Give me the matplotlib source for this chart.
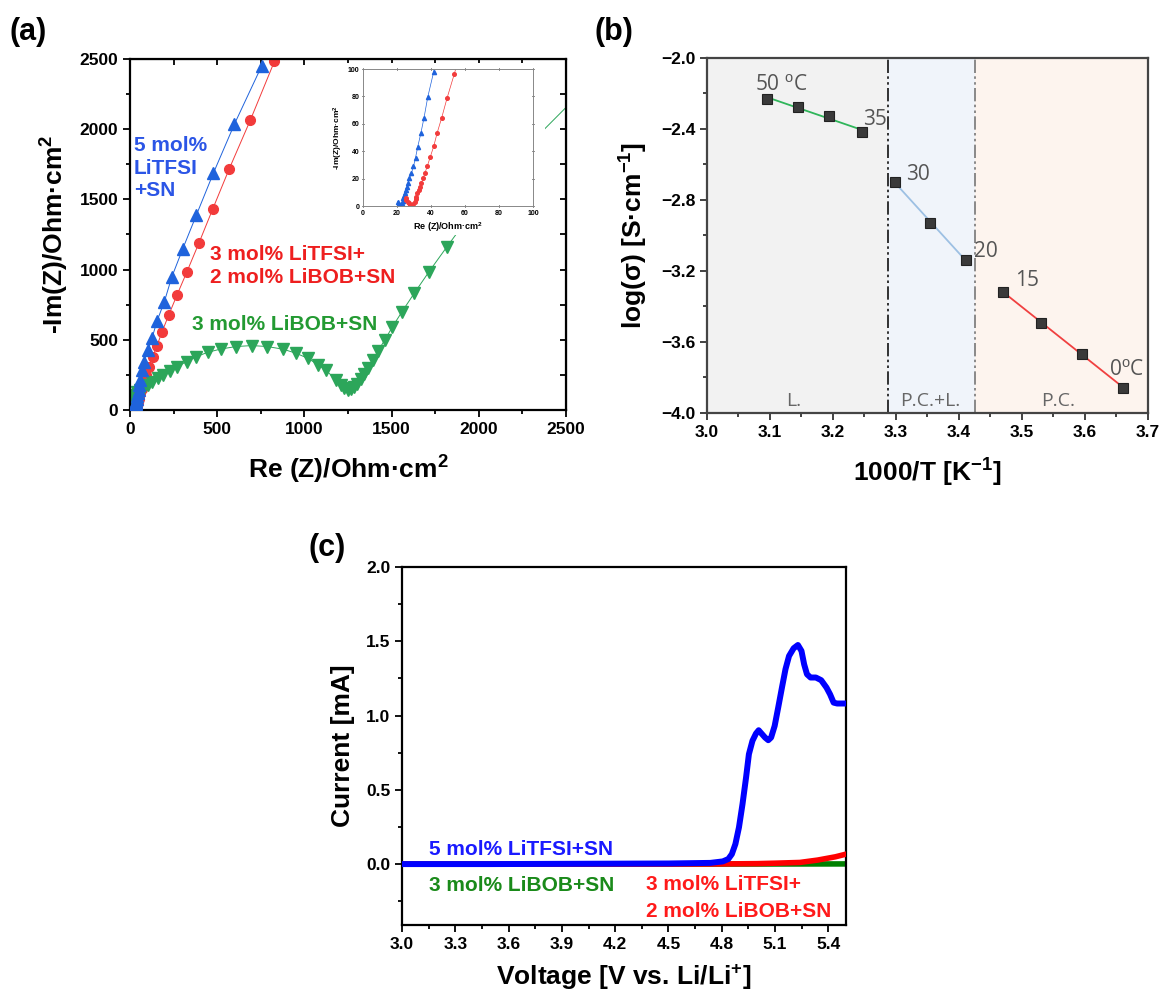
import numpy as np
import matplotlib
matplotlib.use('Agg')
import matplotlib.pyplot as plt
from matplotlib.patches import Rectangle
from matplotlib.ticker import MultipleLocator

plt.rcParams['font.family'] = ['Liberation Sans', 'DejaVu Sans']
plt.rcParams['mathtext.fontset'] = 'custom'
plt.rcParams['mathtext.rm'] = 'Liberation Sans'
plt.rcParams['mathtext.bf'] = 'Liberation Sans:bold'
plt.rcParams['mathtext.it'] = 'Liberation Sans:italic'

# ---------------- data: (a) Nyquist ----------------
litfsi_re = [20.3, 21.1, 21.9, 23.0, 23.4, 23.8, 24.2, 24.8, 25.4, 26.0, 26.6, 27.3, 28.5, 29.7,
             30.9, 32.2, 34.0, 35.9, 38.1, 41.6, 45, 49, 53, 58, 66, 80, 102, 127, 155, 197,
             239, 303, 381, 478, 599, 754]
litfsi_im = [3.2, 1.5, 0.7, 1.9, 3.9, 5.6, 7.5, 9.7, 11.7, 14.1, 16.5, 20.2, 24.1, 29.0,
             35.3, 43.3, 53.0, 64.5, 79.6, 98.1, 120, 146, 176, 214, 285, 345, 428, 516, 634, 772,
             946, 1150, 1390, 1687, 2037, 2448]

mix_re = [25.0, 25.4, 26.2, 26.8, 27.7, 29.1, 29.7, 30.3, 30.9, 31.4, 32.0, 32.8, 33.6, 34.4,
          35.4, 36.5, 37.9, 39.6, 41.6, 43.6, 46.3, 49.4, 53.7, 59, 66, 76, 91, 110, 129, 155,
          184, 222, 269, 326, 394, 474, 569, 690, 828]
mix_im = [5.6, 4.4, 3.2, 1.9, 1.0, 0.7, 1.5, 2.9, 4.9, 6.8, 9.2, 11.7, 14.1, 17.0,
          20.4, 24.3, 29.4, 36.0, 43.6, 53.3, 64.5, 78.6, 96.4, 120, 152, 192, 250, 309, 375, 459,
          558, 677, 818, 984, 1186, 1431, 1718, 2065, 2483]

libob_re = [13, 17, 25, 38, 59, 80, 102, 127, 159, 191, 229, 271, 324, 381, 445, 523, 608, 699,
            787, 878, 953, 1020, 1080, 1122, 1181, 1207, 1228, 1249, 1266, 1285, 1302, 1323,
            1344, 1365, 1393, 1423, 1461, 1503, 1560, 1630, 1715, 1818, 1940, 2080, 2240, 2600]
libob_im = [36, 71, 107, 131, 143, 162, 178, 202, 226, 250, 278, 309, 345, 380, 411, 435, 452, 459,
            452, 433, 404, 368, 321, 285, 214, 178, 154, 143, 147, 162, 185, 219,
            257, 302, 356, 423, 499, 589, 701, 832, 986, 1164, 1370, 1590, 1830, 2280]

# ---------------- data: (b) Arrhenius ----------------
inv_T = [3.095, 3.144, 3.193, 3.246, 3.299, 3.354, 3.411, 3.470, 3.531, 3.595, 3.661]
log_sigma = [-2.229, -2.276, -2.326, -2.416, -2.699, -2.932, -3.136, -3.318, -3.492, -3.668, -3.858]
phase_bounds = [3.0, 3.287, 3.425, 3.7]
phase_names = ['L.', 'P.C.+L.', 'P.C.']
temp_labels = [r'50 $^{\mathrm{o}}$C', '35', '30', '20', '15', r'0$^{\mathrm{o}}$C']

# ---------------- data: (c) LSV ----------------
v_litfsi = [3.0, 3.5, 4.0, 4.5, 4.736, 4.806, 4.837, 4.857, 4.877, 4.897, 4.917, 4.937, 4.953,
            4.973, 4.993, 5.008, 5.024, 5.044, 5.062, 5.078, 5.098, 5.118, 5.139, 5.159, 5.179,
            5.205, 5.229, 5.249, 5.264, 5.280, 5.300, 5.330, 5.360, 5.390, 5.410, 5.430, 5.450, 5.500]
i_litfsi = [0.0, 0.0, 0.002, 0.004, 0.008, 0.018, 0.034, 0.067, 0.135, 0.247, 0.404, 0.583, 0.740,
            0.830, 0.879, 0.901, 0.879, 0.852, 0.834, 0.852, 0.930, 1.054, 1.188, 1.312, 1.401,
            1.453, 1.475, 1.435, 1.345, 1.278, 1.256, 1.256, 1.238, 1.188, 1.143, 1.087, 1.081, 1.081]
v_mix = [3.0, 4.5, 4.8, 5.0, 5.1, 5.24, 5.34, 5.44, 5.5]
i_mix = [0.0, 0.0, 0.001, 0.003, 0.006, 0.011, 0.027, 0.049, 0.067]
v_libob = [3.0, 4.5, 5.5]
i_libob = [0.0, 0.0, 0.001]

BLUE_A, RED_A, GREEN_A = '#1f63dc', '#f23b3b', '#2ca65a'

fig = plt.figure(figsize=(11.62, 9.93), dpi=100)

def style_ticks(ax, size=12.5):
    for lab in ax.get_xticklabels() + ax.get_yticklabels():
        lab.set_fontweight('bold')
        lab.set_fontsize(size)

# ================= (a) =================
ax = fig.add_axes([0.1119, 0.5871, 0.3752, 0.3535])
ax.plot(litfsi_re, litfsi_im, '-^', color=BLUE_A, lw=0.7, ms=8, mec=BLUE_A, zorder=3)
ax.plot(mix_re, mix_im, '-o', color=RED_A, lw=0.7, ms=7, mec=RED_A, zorder=2)
ax.plot(libob_re, libob_im, '-v', color=GREEN_A, lw=0.7, ms=8, mec=GREEN_A, zorder=2)
ax.set_xlim(0, 2500)
ax.set_ylim(0, 2500)
ax.xaxis.set_major_locator(MultipleLocator(500))
ax.yaxis.set_major_locator(MultipleLocator(500))
ax.xaxis.set_minor_locator(MultipleLocator(250))
ax.yaxis.set_minor_locator(MultipleLocator(250))
ax.tick_params(which='both', direction='out', width=1.3, top=False, right=False)
ax.tick_params(which='major', length=5)
ax.tick_params(which='minor', length=3)
for s in ax.spines.values():
    s.set_linewidth(1.6)
style_ticks(ax)
ax.set_xlabel(r'Re (Z)/Ohm·cm$^{\mathbf{2}}$', fontsize=19, fontweight='bold', labelpad=12)
ax.set_ylabel(r'-Im(Z)/Ohm·cm$^{\mathbf{2}}$', fontsize=19, fontweight='bold', labelpad=6)
sec_x = ax.secondary_xaxis('top')
sec_x.set_xticks(np.arange(0, 2501, 500)); sec_x.set_xticklabels([])
sec_x.xaxis.set_minor_locator(MultipleLocator(250))
sec_x.tick_params(which='both', direction='in', width=1.3, length=4)
sec_y = ax.secondary_yaxis('right')
sec_y.set_yticks(np.arange(0, 2501, 500)); sec_y.set_yticklabels([])
sec_y.yaxis.set_minor_locator(MultipleLocator(250))
sec_y.tick_params(which='both', direction='in', width=1.3, length=4)

ax.text(21, 1521, '5 mol%\nLiTFSI\n+SN', color='#2b55e6', fontsize=15, fontweight='bold',
        va='baseline', ha='left', linespacing=1.25, zorder=7)
ax.text(459, 908, '3 mol% LiTFSI+\n2 mol% LiBOB+SN', color='#ee1f1f', fontsize=15,
        fontweight='bold', va='baseline', ha='left', linespacing=1.25, zorder=7)
ax.text(354, 570, '3 mol% LiBOB+SN', color='#239a32', fontsize=15, fontweight='bold',
        va='baseline', ha='left', zorder=7)
ax.add_patch(Rectangle((0.447, 0.499), 0.505, 0.49, transform=ax.transAxes,
                       facecolor='white', edgecolor='none', zorder=5))

# inset
axi = fig.add_axes([0.3124, 0.7925, 0.1463, 0.1380])
axi.plot(litfsi_re, litfsi_im, '-^', color=BLUE_A, lw=0.5, ms=3, mec=BLUE_A)
axi.plot(mix_re, mix_im, '-o', color=RED_A, lw=0.5, ms=2.6, mec=RED_A)
axi.set_xlim(0, 100)
axi.set_ylim(0, 100)
axi.xaxis.set_major_locator(MultipleLocator(20))
axi.yaxis.set_major_locator(MultipleLocator(20))
axi.tick_params(which='both', labelsize=5, width=0.6, length=2, direction='out', pad=1.5)
axi.tick_params(which='both', top=True, right=True, direction='inout')
for lab in axi.get_xticklabels() + axi.get_yticklabels():
    lab.set_fontweight('bold')
for s in axi.spines.values():
    s.set_linewidth(0.7)
    s.set_color('#888888')
axi.set_xlabel(r'Re (Z)/Ohm·cm$^{\mathbf{2}}$', fontsize=6.5, fontweight='bold', labelpad=3)
axi.set_ylabel(r'-Im(Z)/Ohm·cm$^{\mathbf{2}}$', fontsize=6, fontweight='bold', labelpad=2)

# ================= (b) =================
bx = fig.add_axes([0.6084, 0.5841, 0.3795, 0.3575])
shade = ['#f2f2f2', '#f0f4fa', '#fdf4ee']
for k in range(3):
    bx.axvspan(phase_bounds[k], phase_bounds[k + 1], color=shade[k], zorder=0, lw=0)
bx.axvline(phase_bounds[1], color='#111111', lw=1.2, ls=(0, (8, 2, 1.5, 2, 1.5, 2)), zorder=1)
bx.axvline(phase_bounds[2], color='#777777', lw=1.2, ls=(0, (8, 2, 1.5, 2, 1.5, 2)), zorder=1)
groups = [(0, 4, '#2fb55a'), (4, 7, '#9dc0e3'), (7, 11, '#f04040')]
for a, b, col in groups:
    xs = np.array(inv_T[a:b]); ys = np.array(log_sigma[a:b])
    p = np.polyfit(xs, ys, 1)
    xx = np.array([xs[0], xs[-1] + 0.005])
    bx.plot(xx, np.polyval(p, xx), color=col, lw=1.3, zorder=2)
bx.plot(inv_T, log_sigma, 's', color='#3a3a3a', ms=6.5, mec='#222222', mew=0.8, ls='none', zorder=3)
bx.set_xlim(3.0, 3.7)
bx.set_ylim(-4.0, -2.0)
bx.xaxis.set_major_locator(MultipleLocator(0.1))
bx.xaxis.set_minor_locator(MultipleLocator(0.05))
bx.yaxis.set_major_locator(MultipleLocator(0.4))
bx.yaxis.set_minor_locator(MultipleLocator(0.2))
bx.tick_params(which='both', direction='out', width=1.3, color='#333333')
bx.tick_params(which='major', length=5)
bx.tick_params(which='minor', length=3)
for s in bx.spines.values():
    s.set_linewidth(1.6)
    s.set_color('#444444')
bx.set_yticks(np.arange(-4.0, -1.99, 0.4))
bx.set_yticklabels(['−4.0', '−3.6', '−3.2', '−2.8', '−2.4', '−2.0'])
style_ticks(bx)
bx.set_xlabel(r'1000/T [K$^{\mathbf{-1}}$]', fontsize=19, fontweight='bold', labelpad=12)
bx.set_ylabel(r'log($\mathbf{\sigma}$) [S·cm$^{\mathbf{-1}}$]', fontsize=19, fontweight='bold', labelpad=8)
label_pos = [(3.076, -2.178), (3.248, -2.379), (3.316, -2.688), (3.424, -3.119),
             (3.489, -3.284), (3.638, -3.785)]
for (xp, yp), t in zip(label_pos, temp_labels):
    bx.text(xp, yp, t, color='#555555', fontsize=15, family=['Open Sans', 'DejaVu Sans'],
            ha='left', va='baseline', zorder=4)
for k, name in enumerate(phase_names):
    xc = [3.137, 3.354, 3.558][k]
    bx.text(xc, -3.96, name, color='#666666', fontsize=14, family=['Open Sans', 'DejaVu Sans'],
            ha='center', va='baseline', zorder=4)

# ================= (c) =================
cx = fig.add_axes([0.3460, 0.0685, 0.3821, 0.3605])
cx.plot(v_libob, i_libob, color='#008000', lw=4, zorder=2)
cx.plot(v_mix, i_mix, color='#ff0000', lw=4, zorder=3)
cx.plot(v_litfsi, i_litfsi, color='#0000ff', lw=4.3, zorder=4)
cx.set_xlim(3.0, 5.5)
cx.set_ylim(-0.41, 2.0)
cx.xaxis.set_major_locator(MultipleLocator(0.3))
cx.xaxis.set_minor_locator(MultipleLocator(0.15))
cx.yaxis.set_major_locator(MultipleLocator(0.5))
cx.yaxis.set_minor_locator(MultipleLocator(0.25))
cx.tick_params(which='both', direction='out', width=1.3)
cx.tick_params(which='major', length=5)
cx.tick_params(which='minor', length=3)
for s in cx.spines.values():
    s.set_linewidth(1.6)
cx.set_xticks(np.arange(3.0, 5.41, 0.3))
cx.set_xticklabels(['3.0', '3.3', '3.6', '3.9', '4.2', '4.5', '4.8', '5.1', '5.4'])
cx.set_yticks([0.0, 0.5, 1.0, 1.5, 2.0])
cx.set_yticklabels(['0.0', '0.5', '1.0', '1.5', '2.0'])
style_ticks(cx)
cx.set_xlabel(r'Voltage [V vs. Li/Li$^{\mathbf{+}}$]', fontsize=19, fontweight='bold', labelpad=8)
cx.set_ylabel('Current [mA]', fontsize=19, fontweight='bold', labelpad=8)
cx.text(3.151, 0.063, '5 mol% LiTFSI+SN', color='#1a1aff', fontsize=15, fontweight='bold',
        ha='left', va='baseline')
cx.text(3.151, -0.179, '3 mol% LiBOB+SN', color='#1a8a1a', fontsize=15, fontweight='bold',
        ha='left', va='baseline')
cx.text(4.374, -0.175, '3 mol% LiTFSI+', color='#ff1a1a', fontsize=15, fontweight='bold',
        ha='left', va='baseline')
cx.text(4.374, -0.359, '2 mol% LiBOB+SN', color='#ff1a1a', fontsize=15, fontweight='bold',
        ha='left', va='baseline')

# panel letters
fig.text(10 / 1162, 1 - 32 / 993, '(a)', fontsize=22, fontweight='bold', va='center', ha='left')
fig.text(595 / 1162, 1 - 32 / 993, '(b)', fontsize=22, fontweight='bold', va='center', ha='left')
fig.text(308 / 1162, 1 - 548 / 993, '(c)', fontsize=22, fontweight='bold', va='center', ha='left')

fig.savefig('out.png', dpi=100)
